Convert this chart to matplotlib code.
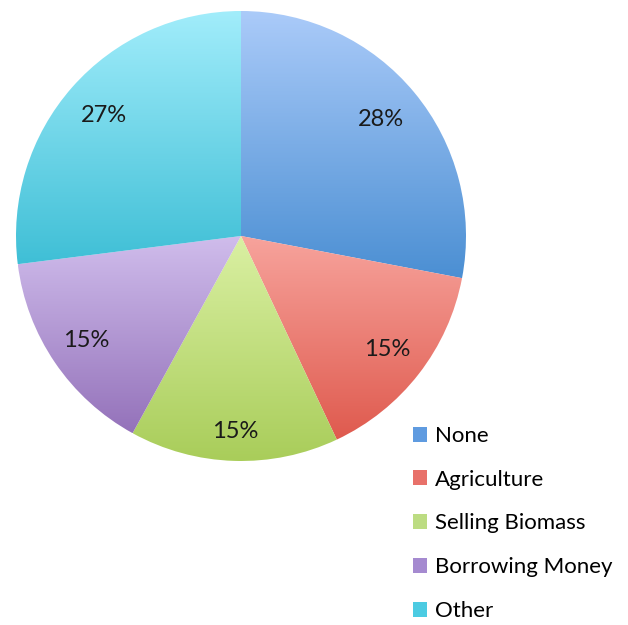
import numpy as np
import matplotlib.pyplot as plt
from matplotlib.colors import LinearSegmentedColormap
from matplotlib.patches import Patch

plt.rcParams['font.family'] = ['Lato', 'DejaVu Sans']

labels = ['None', 'Agriculture', 'Selling Biomass', 'Borrowing Money', 'Other']
values = [28, 15, 15, 15, 27]
# light (top) and dark (bottom) shade of each slice
top_colors = ['#abcbf9', '#f7a39c', '#daf0a3', '#d0bdec', '#a2edfb']
bottom_colors = ['#4b8fd3', '#df5a4e', '#a9cd5a', '#9472ba', '#3fbfd6']
key_colors = ['#5f9be0', '#e8716a', '#bcdc82', '#a58ad0', '#4ccbe2']
label_dist = [0.81, 0.82, 0.87, 0.83, 0.81]

fig = plt.figure(figsize=(6.28, 6.25), dpi=100)
ax = fig.add_axes([16 / 628, (625 - 236 - 225) / 625, 450 / 628, 450 / 625])

wedges, texts, autotexts = ax.pie(values, startangle=90, counterclock=False,
                                  autopct='%1.0f%%', pctdistance=0.82,
                                  textprops={'fontsize': 17, 'color': '#1a1a1a'})

grad = np.linspace(1, 0, 256).reshape(-1, 1)
for w, c1, c2 in zip(wedges, top_colors, bottom_colors):
    w.set_facecolor('none')
    w.set_edgecolor('none')
    bb = w.get_path().get_extents()
    cmap = LinearSegmentedColormap.from_list('g', [c2, c1])
    im = ax.imshow(grad, cmap=cmap, aspect='auto', interpolation='bilinear',
                   extent=[bb.x0, bb.x1, bb.y0, bb.y1], origin='upper', zorder=0.5)
    im.set_clip_path(w)

# push each percentage label out along its slice's middle
for w, t, d in zip(wedges, autotexts, label_dist):
    mid = np.deg2rad((w.theta1 + w.theta2) / 2)
    t.set_position((d * np.cos(mid), d * np.sin(mid)))
    t.set_zorder(3)

ax.set_xlim(-1, 1)
ax.set_ylim(-1, 1)
ax.set_aspect('equal')
ax.axis('off')

handles = [Patch(facecolor=c, edgecolor='none') for c in key_colors]
fig.legend(handles, labels, loc='upper left', bbox_to_anchor=(404 / 628, 1 - 417 / 625),
           frameon=False, fontsize=16, handlelength=0.65, handleheight=0.65,
           handletextpad=0.35, labelspacing=1.07, borderaxespad=0)

plt.savefig('out.png', dpi=100)
